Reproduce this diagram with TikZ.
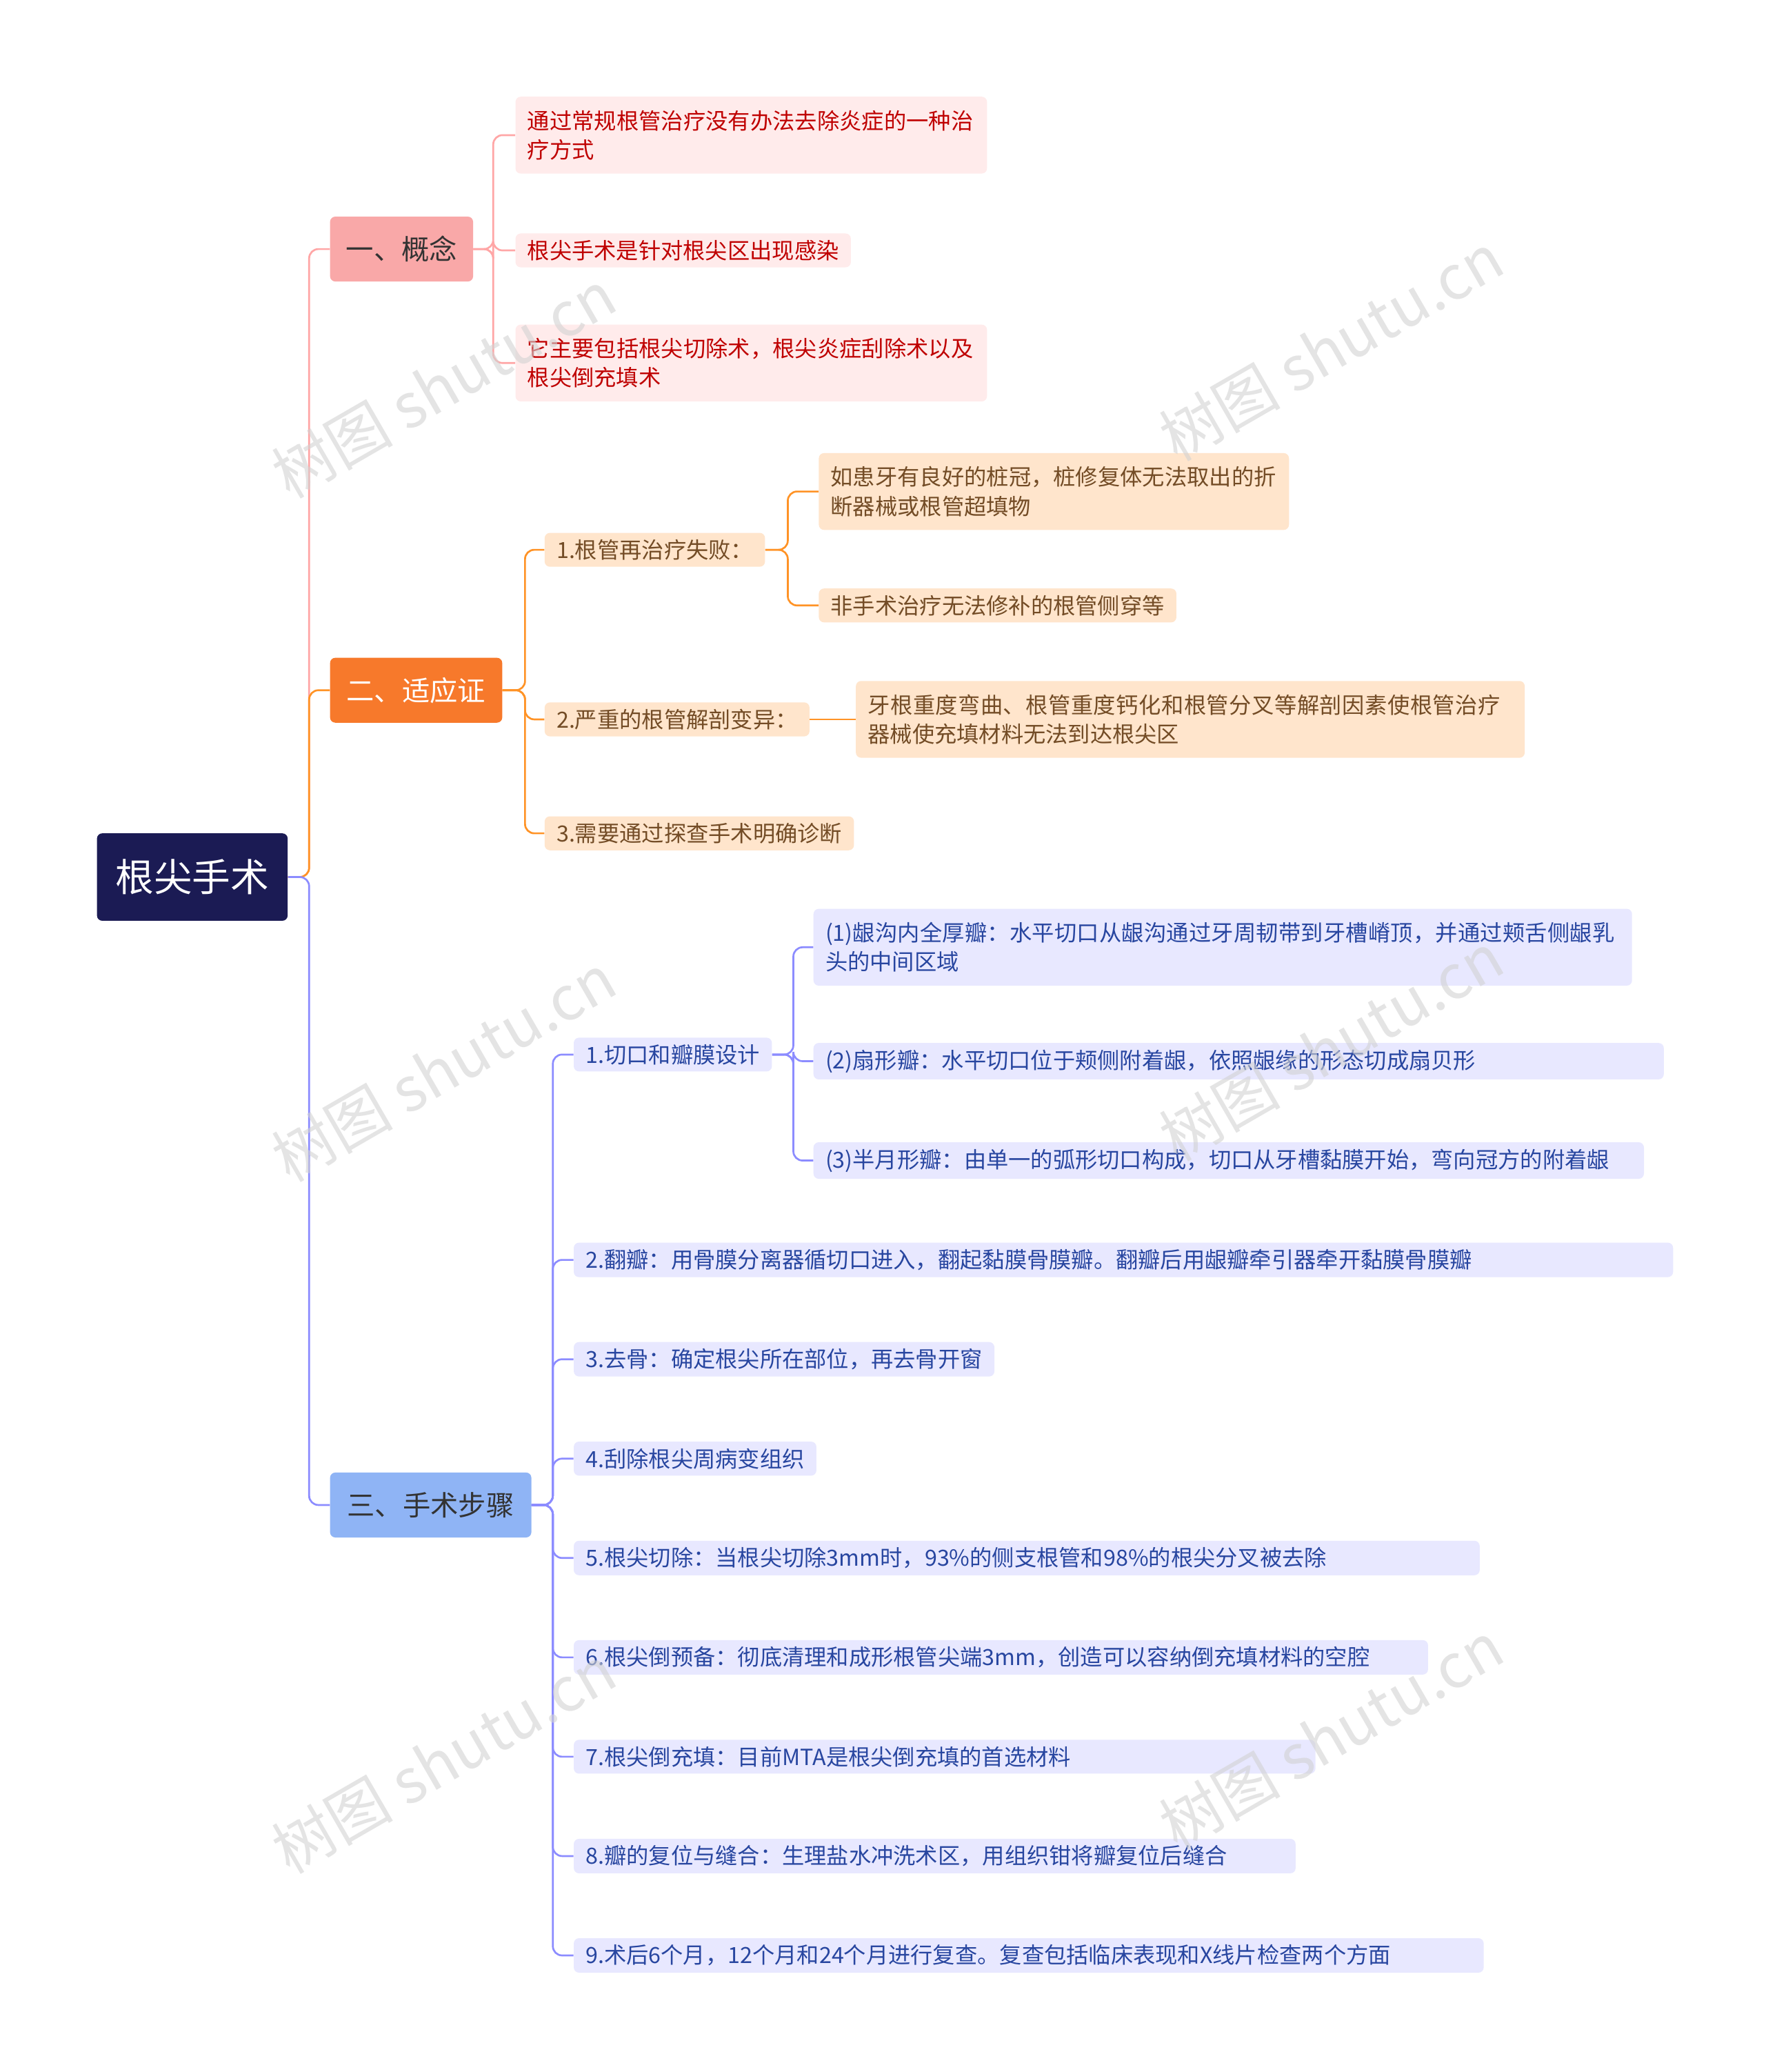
\documentclass[tikz,border=0pt]{standalone}
\usepackage{fontspec}
\setmainfont{Noto Sans CJK SC}
\XeTeXlinebreaklocale "zh"
\XeTeXlinebreakskip=0pt plus 1pt
\begin{document}
\begin{tikzpicture}[x=1pt,y=-1pt,
  box/.style={anchor=west,rounded corners=4pt,inner xsep=9pt,inner ysep=5pt,align=left,font=\fontsize{16.8}{22}\selectfont},
  red/.style={box,fill=red!8,text=red!75!black},
  org/.style={box,fill=orange!20,text=brown!60!black},
  blu/.style={box,fill=blue!9,text={rgb,255:red,40;green,70;blue,160}},
  lk/.style={rounded corners=7pt,line width=1.4pt},
  wm/.style={rotate=30,text=gray!35,opacity=0.6,font=\fontsize{46}{46}\selectfont}]
\fill[white] (0,0) rectangle (1333,1564);
\useasboundingbox (0,0) rectangle (1333,1564);
% root
\node[anchor=west,fill={rgb,255:red,27;green,27;blue,84},text=white,rounded corners=4pt,minimum width=144pt,minimum height=66pt,font=\fontsize{29}{30}\selectfont] (root) at (73,662) {根尖手术};
% level 1
\node[anchor=west,fill={rgb,255:red,249;green,168;blue,168},text=black!80,rounded corners=4pt,minimum width=108pt,minimum height=49pt,font=\fontsize{21}{24}\selectfont] (a) at (249,188) {一、概念};
\node[anchor=west,fill={rgb,255:red,247;green,121;blue,43},text=white,rounded corners=4pt,minimum width=130pt,minimum height=49pt,font=\fontsize{21}{24}\selectfont] (b) at (249,521) {二、适应证};
\node[anchor=west,fill={rgb,255:red,143;green,180;blue,245},text=black!80,rounded corners=4pt,minimum width=152pt,minimum height=49pt,font=\fontsize{21}{24}\selectfont] (c) at (249,1136) {三、手术步骤};
\draw[lk,red!35] (root.east) -- ++(16,0) |- (a.west);
\draw[lk,orange!85] (root.east) -- ++(16,0) |- (b.west);
\draw[lk,blue!45] (root.east) -- ++(16,0) |- (c.west);
% concept
\node[red,text width=338pt,minimum height=58pt] (a1) at (389,102) {通过常规根管治疗没有办法去除炎症的一种治疗方式};
\node[red] (a2) at (389,189) {根尖手术是针对根尖区出现感染};
\node[red,text width=338pt,minimum height=58pt] (a3) at (389,274) {它主要包括根尖切除术，根尖炎症刮除术以及根尖倒充填术};
\foreach \n in {a1,a2,a3} \draw[lk,red!35] (a.east) -- ++(15,0) |- (\n.west);
% indications
\node[org] (b1) at (411,415) {1.根管再治疗失败：};
\node[org] (b2) at (411,543) {2.严重的根管解剖变异：};
\node[org] (b3) at (411,629) {3.需要通过探查手术明确诊断};
\foreach \n in {b1,b2,b3} \draw[lk,orange!85] (b.east) -- ++(17,0) |- (\n.west);
\node[org,text width=337pt,minimum height=58pt] (b11) at (618,371) {如患牙有良好的桩冠，桩修复体无法取出的折断器械或根管超填物};
\node[org] (b12) at (618,457) {非手术治疗无法修补的根管侧穿等};
\node[org,text width=487pt,minimum height=58pt] (b21) at (646,543) {牙根重度弯曲、根管重度钙化和根管分叉等解剖因素使根管治疗器械使充填材料无法到达根尖区};
\foreach \n in {b11,b12} \draw[lk,orange!85] (b1.east) -- ++(17,0) |- (\n.west);
\draw[lk,orange!85] (b2.east) -- (b21.west);
% steps
\node[blu] (c1) at (433,796) {1.切口和瓣膜设计};
\node[blu,text width=812pt] (c2) at (433,951) {2.翻瓣：用骨膜分离器循切口进入，翻起黏膜骨膜瓣。翻瓣后用龈瓣牵引器牵开黏膜骨膜瓣};
\node[blu] (c3) at (433,1026) {3.去骨：确定根尖所在部位，再去骨开窗};
\node[blu] (c4) at (433,1101) {4.刮除根尖周病变组织};
\node[blu,text width=666pt] (c5) at (433,1176) {5.根尖切除：当根尖切除3mm时，93\%的侧支根管和98\%的根尖分叉被去除};
\node[blu,text width=627pt] (c6) at (433,1251) {6.根尖倒预备：彻底清理和成形根管尖端3mm，创造可以容纳倒充填材料的空腔};
\node[blu,text width=542pt] (c7) at (433,1326) {7.根尖倒充填：目前MTA是根尖倒充填的首选材料};
\node[blu,text width=527pt] (c8) at (433,1401) {8.瓣的复位与缝合：生理盐水冲洗术区，用组织钳将瓣复位后缝合};
\node[blu,text width=669pt] (c9) at (433,1476) {9.术后6个月，12个月和24个月进行复查。复查包括临床表现和X线片检查两个方面};
\foreach \n in {c1,c2,c3,c4,c5,c6,c7,c8,c9} \draw[lk,blue!45] (c.east) -- ++(16,0) |- (\n.west);
\node[blu,text width=600pt,minimum height=58pt] (c11) at (614,715) {(1)龈沟内全厚瓣：水平切口从龈沟通过牙周韧带到牙槽嵴顶，并通过颊舌侧龈乳头的中间区域};
\node[blu,text width=624pt] (c12) at (614,801) {(2)扇形瓣：水平切口位于颊侧附着龈，依照龈缘的形态切成扇贝形};
\node[blu,text width=609pt] (c13) at (614,876) {(3)半月形瓣：由单一的弧形切口构成，切口从牙槽黏膜开始，弯向冠方的附着龈};
\foreach \n in {c11,c12,c13} \draw[lk,blue!45] (c1.east) -- ++(16,0) |- (\n.west);
% watermarks
\foreach \p in {(335,290),(1005,262),(335,806),(1005,790),(335,1328),(1005,1310)}
  \node[wm] at \p {树图 shutu.cn};
\end{tikzpicture}
\end{document}
